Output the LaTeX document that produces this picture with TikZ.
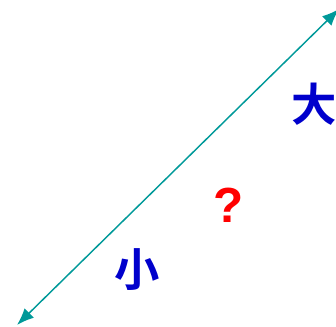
\documentclass[tikz,border=0pt]{standalone}
\usepackage{fontspec}
\newfontfamily\cjk{Noto Sans CJK SC Bold}
\newfontfamily\qfont{Liberation Sans}
\usetikzlibrary{arrows.meta}
\definecolor{teal}{RGB}{0,153,153}
\definecolor{lblblue}{RGB}{0,0,204}
\begin{document}
\begin{tikzpicture}[x=0.75pt,y=-0.75pt,lbl/.style={font=\cjk\fontsize{34}{34}\selectfont,text=lblblue,inner sep=0pt},arr/.style={teal,line width=1.1pt,{Latex[length=4.5mm,width=3.5mm]}-{Latex[length=4.5mm,width=3.5mm]}}]
\useasboundingbox (0,0) rectangle (336,327);
\coordinate (lo) at (17,325);
\coordinate (hi) at (339,9);
\draw[arr] (lo) -- (hi);
\node[lbl] (big) at (314,104) {大};
\node[lbl] (small) at (137,270) {小};
\node[lbl,text=red,font=\qfont\bfseries\fontsize{37}{37}\selectfont] (q) at (229,205) {?};
\end{tikzpicture}
\end{document}
